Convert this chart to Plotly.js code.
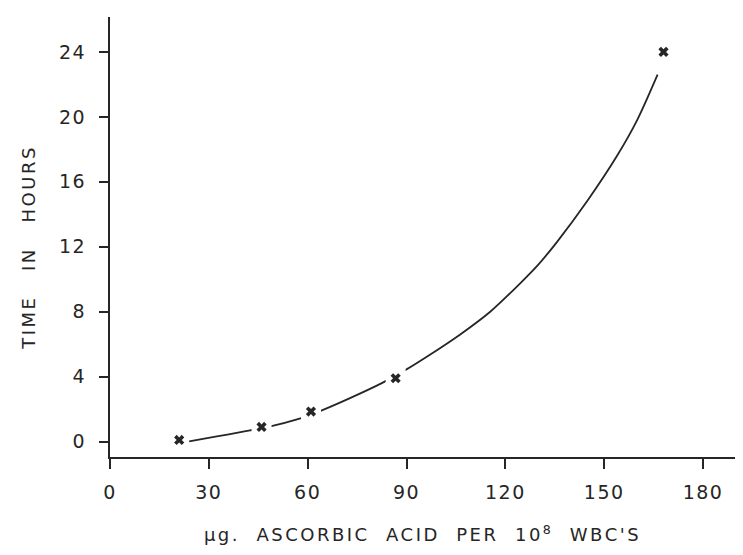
<!DOCTYPE html>
<html>
<head>
<meta charset="utf-8">
<script src="https://cdn.plot.ly/plotly-3.0.1.min.js"></script>
<style>html,body{margin:0;padding:0;background:#fff;}#chart{width:743px;height:555px;}</style>
</head>
<body>
<div id="chart"></div>
<script>
// Measured data points (x marks)
const pointX = [21, 46, 61, 86.7, 168];
const pointY = [0.1, 0.9, 1.85, 3.9, 24];

// Fitted curve
const curveX = [23.6, 32, 40, 49, 56.5, 63.4, 72, 82.5, 89.6, 97.1, 106.3, 115.4, 124.5, 130, 135.7, 144.8, 153.9, 160, 166.2];
const curveY = [0.0, 0.3, 0.6, 0.95, 1.35, 1.85, 2.6, 3.6, 4.4, 5.35, 6.6, 8.0, 9.75, 10.9, 12.3, 14.8, 17.6, 19.8, 22.6];

const xTicks = [0, 30, 60, 90, 120, 150, 180];
const yTicks = [0, 4, 8, 12, 16, 20, 24];

const xTitle = 'µg.\u00a0 ASCORBIC\u00a0 ACID\u00a0 PER\u00a0 10<sup>8</sup>\u00a0 WBC\'S';
const yTitle = 'TIME\u00a0\u00a0 IN\u00a0\u00a0 HOURS';

const ink = '#262626';
const font = {family: 'DejaVu Sans', size: 18, color: ink};
const tickFont = {family: 'DejaVu Sans', size: 19, color: ink};

const traces = [
  {x: curveX, y: curveY, mode: 'lines', line: {color: ink, width: 1.8, shape: 'spline', smoothing: 0.8}, hoverinfo: 'skip'},
  {x: pointX, y: pointY, mode: 'markers', marker: {symbol: 'square', size: 20, color: '#ffffff'}, hoverinfo: 'skip'},
  {x: pointX, y: pointY, mode: 'markers', marker: {symbol: 'x', size: 9, color: ink}}
];

const layout = {
  width: 743, height: 555,
  margin: {l: 110, r: 8, t: 17, b: 98},
  paper_bgcolor: '#fff', plot_bgcolor: '#fff',
  showlegend: false,
  font: font,
  xaxis: {
    range: [0, 189.7], tickvals: xTicks, ticktext: xTicks.map(String),
    ticks: 'outside', ticklen: 10, tickwidth: 2, tickcolor: ink,
    showline: true, linecolor: ink, linewidth: 2,
    showgrid: false, zeroline: false, ticklabelstandoff: 7,
    tickfont: tickFont,
    title: {text: xTitle, font: font, standoff: 27}
  },
  yaxis: {
    range: [-0.95, 26.15], tickvals: yTicks, ticktext: yTicks.map(String),
    ticks: 'outside', ticklen: 9, tickwidth: 2, tickcolor: ink,
    showline: true, linecolor: ink, linewidth: 2,
    showgrid: false, zeroline: false, ticklabelstandoff: 9,
    tickfont: tickFont,
    title: {text: yTitle, font: font, standoff: 22}
  }
};

Plotly.newPlot('chart', traces, layout, {displayModeBar: false, staticPlot: true}).then(function () {
  document.querySelectorAll('.xtitle, .ytitle').forEach(function (el) { el.style.letterSpacing = '2.5px'; });
  document.querySelectorAll('.ytitle').forEach(function (el) {
    el.setAttribute('transform', 'translate(0,10) ' + (el.getAttribute('transform') || ''));
  });
  document.querySelectorAll('.xtick text, .ytick text').forEach(function (el) { el.style.letterSpacing = '1.5px'; });
});
</script>
</body>
</html>
